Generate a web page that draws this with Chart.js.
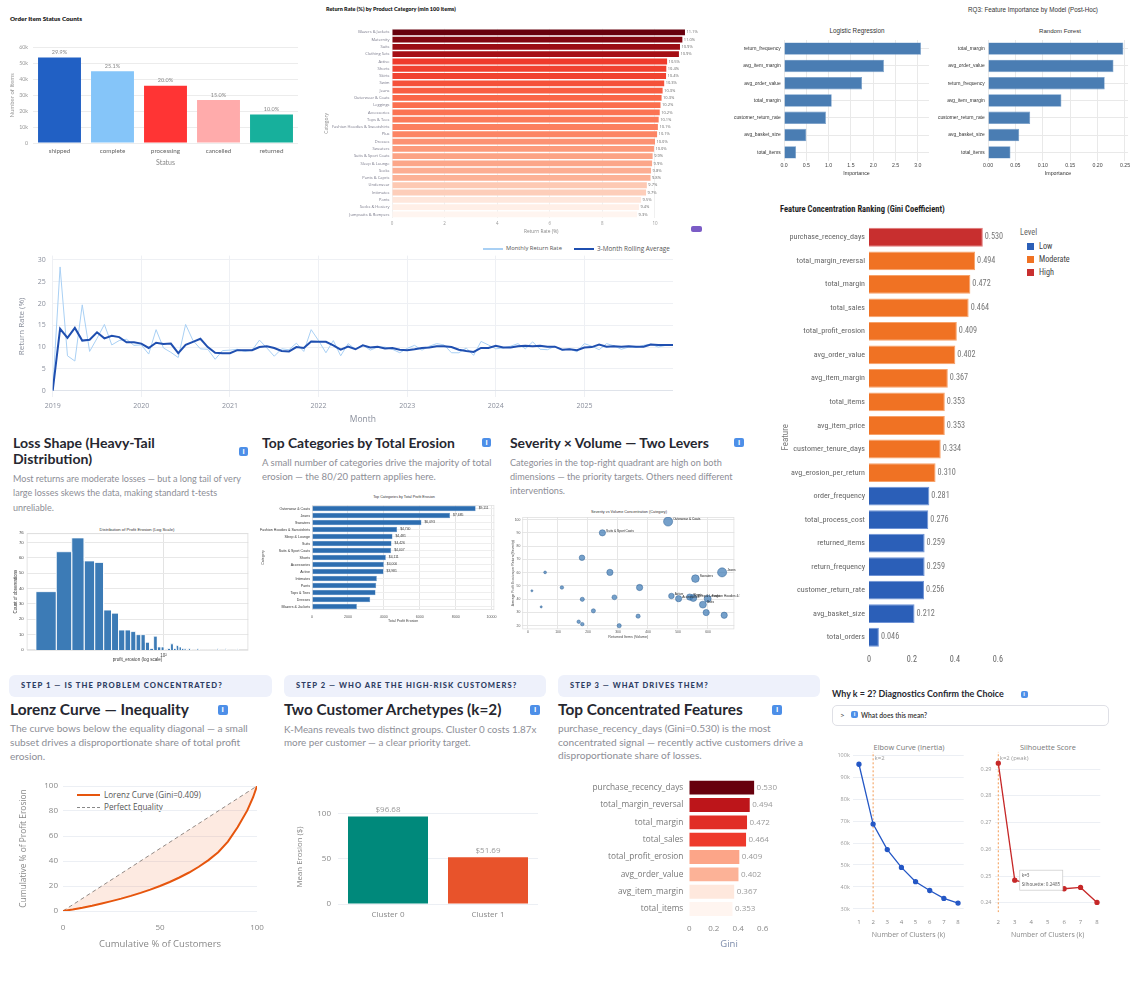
<!DOCTYPE html>
<html>
<head>
<meta charset="utf-8">
<title>Returns &amp; Profit Erosion Dashboard</title>
<script src="https://cdn.jsdelivr.net/npm/chart.js@4.4.1/dist/chart.umd.min.js"></script>
<style>
html,body{margin:0;padding:0;background:#fff}
body{position:relative;width:1137px;height:990px;overflow:hidden}
canvas{position:absolute;display:block}
.t{position:absolute;white-space:nowrap}
.ic{position:absolute;background:#4d8fe8;border-radius:2px;color:#fff;font-weight:700;font-family:'Noto Sans',sans-serif;text-align:center}
.exp{position:absolute;border:1px solid #dfe0e6;border-radius:5px;background:#fff}
.blk{position:absolute}
</style>
</head>
<body>
<script>
// ------------------------------------------------------------------ DATA
const statusCats = ['shipped','complete','processing','cancelled','returned'];
const statusCounts = [53800, 45200, 36000, 27000, 18000];
const statusPct = ['29.9%','25.1%','20.0%','15.0%','10.0%'];

const retCats = ['Blazers & Jackets','Maternity','Suits','Clothing Sets','Active','Shorts','Skirts','Swim','Jeans','Outerwear & Coats','Leggings','Accessories','Tops & Tees','Fashion Hoodies & Sweatshirts','Plus','Dresses','Sweaters','Suits & Sport Coats','Sleep & Lounge','Socks','Pants & Capris','Underwear','Intimates','Pants','Socks & Hosiery','Jumpsuits & Rompers'];
const retVals = [11.14, 11.04, 10.95, 10.91, 10.46, 10.43, 10.42, 10.35, 10.29, 10.25, 10.21, 10.18, 10.14, 10.11, 10.08, 10.00, 9.96, 9.91, 9.89, 9.85, 9.83, 9.69, 9.66, 9.47, 9.39, 9.32];
const retTicks = [0, 2, 4, 6, 8, 10];

const lrFeat = ['return_frequency','avg_item_margin','avg_order_value','total_margin','customer_return_rate','avg_basket_size','total_items'];
const lrVals = [3.07, 2.24, 1.75, 1.07, 0.94, 0.50, 0.27];
const lrTicks = [0, 0.5, 1.0, 1.5, 2.0, 2.5, 3.0];
const rfFeat = ['total_margin','avg_order_value','return_frequency','avg_item_margin','customer_return_rate','avg_basket_size','total_items'];
const rfVals = [0.247, 0.229, 0.213, 0.134, 0.077, 0.057, 0.041];
const rfTicks = [0, 0.05, 0.10, 0.15, 0.20, 0.25];

const months = [
'2019-01','2019-02','2019-03','2019-04','2019-05','2019-06','2019-07','2019-08','2019-09','2019-10','2019-11','2019-12',
'2020-01','2020-02','2020-03','2020-04','2020-05','2020-06','2020-07','2020-08','2020-09','2020-10','2020-11','2020-12',
'2021-01','2021-02','2021-03','2021-04','2021-05','2021-06','2021-07','2021-08','2021-09','2021-10','2021-11','2021-12',
'2022-01','2022-02','2022-03','2022-04','2022-05','2022-06','2022-07','2022-08','2022-09','2022-10','2022-11','2022-12',
'2023-01','2023-02','2023-03','2023-04','2023-05','2023-06','2023-07','2023-08','2023-09','2023-10','2023-11','2023-12',
'2024-01','2024-02','2024-03','2024-04','2024-05','2024-06','2024-07','2024-08','2024-09','2024-10','2024-11','2024-12',
'2025-01','2025-02','2025-03','2025-04','2025-05','2025-06','2025-07','2025-08','2025-09','2025-10','2025-11','2025-12',
'2026-01'];
const monthlyRate = [
0, 28.4, 8.0, 6.8, 19.7, 9.0, 12.0, 15.2, 10.5, 11.5, 11.8, 10.4,
10.5, 8.4, 14.0, 9.8, 8.8, 7.6, 15.2, 11.5, 9.6, 9.5, 7.2, 9.2,
9.3, 9.5, 9.0, 9.3, 11.6, 9.8, 7.9, 9.6, 9.4, 10.9, 9.0, 14.0,
11.5, 8.7, 11.5, 8.0, 10.8, 9.5, 10.5, 9.3, 10.0, 10.0, 9.5, 8.7,
9.7, 10.4, 9.3, 10.2, 10.8, 10.5, 8.7, 8.7, 9.8, 8.1, 11.3, 10.5,
9.6, 9.8, 10.2, 10.8, 9.6, 11.2, 9.5, 9.4, 10.2, 9.3, 9.6, 8.9,
10.8, 10.2, 9.4, 10.8, 10.3, 9.5, 10.0, 9.9, 10.4, 10.7, 10.0, 10.4,
10.6];
const rollingAvg = [
0, 14.2, 12.1, 14.4, 11.5, 11.7, 13.4, 12.0, 12.6, 12.3, 11.1, 11.1,
10.8, 9.8, 11.0, 10.7, 10.8, 8.6, 10.5, 11.2, 11.9, 10.0, 8.7, 8.6,
8.6, 9.3, 9.3, 9.3, 10.0, 10.2, 9.8, 9.1, 9.0, 10.0, 9.8, 11.3,
11.2, 11.2, 10.4, 9.4, 10.1, 9.5, 10.4, 9.9, 10.1, 9.7, 9.8, 9.4,
9.3, 9.5, 9.8, 9.9, 10.2, 10.2, 10.0, 9.4, 9.1, 8.9, 9.8, 9.8,
10.3, 9.9, 9.9, 10.2, 10.3, 10.2, 10.3, 10.1, 10.1, 9.4, 9.5, 9.3,
9.9, 10.0, 10.6, 10.1, 10.2, 10.1, 10.2, 10.1, 10.1, 10.6, 10.5, 10.5,
10.5];
const yearTicks = [2019, 2020, 2021, 2022, 2023, 2024, 2025];
const rateTicks = [0, 5, 10, 15, 20, 25, 30];

const giniFeat = ['purchase_recency_days','total_margin_reversal','total_margin','total_sales','total_profit_erosion','avg_order_value','avg_item_margin','total_items','avg_item_price','customer_tenure_days','avg_erosion_per_return','order_frequency','total_process_cost','returned_items','return_frequency','customer_return_rate','avg_basket_size','total_orders'];
const giniVals = [0.530, 0.494, 0.472, 0.464, 0.409, 0.402, 0.367, 0.353, 0.353, 0.334, 0.310, 0.281, 0.276, 0.259, 0.259, 0.256, 0.212, 0.046];
const giniLevel = ['High','Moderate','Moderate','Moderate','Moderate','Moderate','Moderate','Moderate','Moderate','Moderate','Moderate','Low','Low','Low','Low','Low','Low','Low'];
const levelNames = ['Low','Moderate','High'];
const giniTicks = [0, 0.2, 0.4, 0.6];

const histStart = 13.9, histWidth = 5.15;
const histCounts = [38,64,73,58,57,26,24,13,13,12, 10,10,5,1,9,2,2,0,1,4, 1,3,2,1,1,0,1,0,0,0, 1,0,0,0,0,0,0,0,0,0, 0,0,1,0,0,0,0,0,1,0, 0,0,0,0,0,0,0,0,1];

const topCats = ['Outerwear & Coats','Jeans','Sweaters','Fashion Hoodies & Sweatshirts','Sleep & Lounge','Suits','Suits & Sport Coats','Shorts','Accessories','Active','Intimates','Pants','Tops & Tees','Dresses','Blazers & Jackets'];
const topVals = [9111, 7685, 6093, 4740, 4481, 4426, 4407, 4111, 4000, 3981, 3611, 3574, 3537, 3241, 2500];
const topLabels = ['$9,111','$7,685','$6,093','$4,740','$4,481','$4,426','$4,407','$4,111','$4,000','$3,981','','','','',''];
const topTicks = [0, 2000, 4000, 6000, 8000, 10000];

const bubVolume   = [467, 248, 180, 57, 273, 647, 558, 372, 113, 13, 478, 288, 502, 539, 551, 599, 181, 583, 44, 218, 594, 654, 367, 169, 181, 304];
const bubSeverity = [98.5, 90, 71.2, 60.2, 60.2, 60.2, 55.5, 48.8, 48.8, 46.3, 42.4, 41.4, 40.4, 41.6, 40.9, 40.4, 39.9, 35.9, 34.2, 31.2, 29.9, 27.9, 27.2, 23.0, 21.2, 20.0];
const bubErosion  = [9111, 4356, 3443, 860, 4356, 9111, 6500, 4356, 1344, 484, 3443, 2635, 4356, 4356, 5378, 5378, 1936, 5378, 484, 1936, 4356, 4356, 1936, 1344, 1344, 1936];
const bubLabel    = ['Outerwear & Coats','Suits & Sport Coats','','','','Jeans','Sweaters','','','','Active','','Accessories','Shorts','Sleep & Lounge','Fashion Hoodies & Sweatshirts','','Suits','','','','','','','',''];
const volTicks = [0, 100, 200, 300, 400, 500, 600];
const sevTicks = [20, 30, 40, 50, 60, 70, 80, 90, 100];

const lorenzX = [0,5,10,15,20,25,30,35,40,45,50,55,60,65,70,75,80,85,90,95,98,100];
const lorenzY = [0,1.2,2.6,4.2,6.0,7.9,9.9,12.1,14.5,17.1,20.0,23.2,26.8,30.8,35.4,40.7,47.0,55.5,67.0,80.5,91.0,100];
const equalityXY = [0, 100];

const clusterNames = ['Cluster 0','Cluster 1'];
const clusterErosion = [96.68, 51.69];
const clusterLabels = ['$96.68','$51.69'];

const conFeat = ['purchase_recency_days','total_margin_reversal','total_margin','total_sales','total_profit_erosion','avg_order_value','avg_item_margin','total_items'];
const conVals = [0.530, 0.494, 0.472, 0.464, 0.409, 0.402, 0.367, 0.353];

const elbowK = [1,2,3,4,5,6,7,8];
const elbowInertia = [95800, 68600, 57000, 48900, 42400, 38400, 34800, 32700];
const inertiaTicks = [30000,40000,50000,60000,70000,80000,90000,100000];
const silK = [2,3,4,5,6,7,8];
const silScore = [0.2922, 0.2485, 0.2469, 0.2458, 0.2453, 0.2458, 0.2402];
const silTicks = [0.24,0.25,0.26,0.27,0.28,0.29];
const chosenK = 2;

// ------------------------------------------------------------------ HELPERS
const LATO = "Lato, 'Open Sans', sans-serif";
const OPEN = "'Open Sans', sans-serif";
const LIB = "'Liberation Sans', Arial, sans-serif";
const NARROW = "'Liberation Sans Narrow','Roboto Condensed','DejaVu Sans Condensed',Roboto,sans-serif";

function T(lines, o){
  lines = Array.isArray(lines) ? lines : [lines];
  const d = document.createElement('div'); d.className='t';
  d.style.fontFamily = o.fam || LATO; d.style.fontWeight = o.wt || 400; d.style.color = o.col || '#333';
  if (o.ls) d.style.letterSpacing = o.ls + 'em';
  document.body.appendChild(d);
  let size = o.size || 10;
  d.style.lineHeight = '1';
  if (o.fit){ d.style.fontSize = size+'px'; d.textContent = lines[0]; size = size * o.fit / d.getBoundingClientRect().width; }
  const lh = o.lh || size*1.25;
  d.style.fontSize = size+'px'; d.style.lineHeight = lh+'px';
  d.textContent = '';
  lines.forEach((l,i)=>{ if(i) d.appendChild(document.createElement('br')); d.appendChild(document.createTextNode(l)); });
  d.style.top = (o.yc - lh/2) + 'px';
  if (o.cx !== undefined){ const w = d.getBoundingClientRect().width; d.style.left = (o.cx - w/2)+'px'; }
  else d.style.left = o.x + 'px';
  return d;
}
function R(x,y,w,h,css){ const d=document.createElement('div'); d.className='blk'; Object.assign(d.style,{left:x+'px',top:y+'px',width:w+'px',height:h+'px'},css||{}); document.body.appendChild(d); return d; }
function icon(cx,cy,s){ const d=document.createElement('div'); d.className='ic'; s=s||10; Object.assign(d.style,{left:(cx-s/2)+'px',top:(cy-s/2)+'px',width:s+'px',height:(s-0.5)+'px',fontSize:(s*0.75)+'px',lineHeight:(s-0.5)+'px'}); d.textContent='i'; document.body.appendChild(d); }

function mk(box){ const c=document.createElement('canvas'); c.width=box.w; c.height=box.h; Object.assign(c.style,{left:box.x+'px',top:box.y+'px',width:box.w+'px',height:box.h+'px'}); document.body.appendChild(c); return c.getContext('2d'); }
function geom(box, p){ return { pad:{left:0, top:p.t-box.y, right:box.x+box.w-p.r, bottom:0}, yw:p.l-box.x, xh:box.y+box.h-p.b }; }
function zero(s){ s.paddingLeft=0; s.paddingRight=0; s.paddingTop=0; s.paddingBottom=0; }
function sc(o){
  const s = { border:{display:false},
    grid:{display:!!o.grid, color:o.grid||'rgba(0,0,0,0)', drawTicks:false},
    ticks:{font:{size:o.fs, family:o.ff}, color:o.fc, padding:o.tp, autoSkip:false, maxRotation:0, minRotation:0} };
  if (o.type) s.type = o.type;
  if (o.min !== undefined) s.min = o.min;
  if (o.max !== undefined) s.max = o.max;
  if (o.step) s.ticks.stepSize = o.step;
  if (o.cb) s.ticks.callback = o.cb;
  if (o.goff !== undefined) s.grid.offset = o.goff;
  if (o.tv) s.afterBuildTicks = x => { x.ticks = o.tv.map(v=>({value:v})); };
  if (o.w !== undefined) s.afterFit = x => { x.width = o.w; zero(x); };
  if (o.h !== undefined) s.afterFit = x => { x.height = o.h; zero(x); };
  s.title = o.title ? {display:true, text:o.title, font:{size:o.tfs, family:o.ff, weight:o.tw||'normal'}, color:o.tc||o.fc, padding:o.tpad} : {display:false};
  return s;
}
function barLabels(texts, font, color, off){
  return {id:'barLabels', afterDatasetsDraw(c){
    const ctx=c.ctx, meta=c.getDatasetMeta(0), hor=c.options.indexAxis==='y';
    ctx.save(); ctx.font=font; ctx.fillStyle=color;
    meta.data.forEach((el,i)=>{ const t=texts[i]; if(!t) return;
      if(hor){ ctx.textAlign='left'; ctx.textBaseline='middle'; ctx.fillText(t, el.x+off, el.y); }
      else { ctx.textAlign='center'; ctx.textBaseline='bottom'; ctx.fillText(t, el.x, el.y-off); } });
    ctx.restore(); }};
}
function frame(col){ return {id:'frame', beforeDatasetsDraw(c){ const a=c.chartArea, x=c.ctx; x.save(); x.strokeStyle=col; x.lineWidth=0.8; x.strokeRect(a.left+0.4,a.top+0.4,a.right-a.left-0.8,a.bottom-a.top-0.8); x.restore(); }}; }
const REDS=[[0,[255,245,240]],[0.125,[254,224,210]],[0.25,[252,187,161]],[0.375,[252,146,114]],[0.5,[251,106,74]],[0.625,[239,59,44]],[0.75,[203,24,29]],[0.875,[165,15,21]],[1,[103,0,13]]];
function reds(t){ t=Math.max(0,Math.min(1,t)); for(let i=1;i<REDS.length;i++){ if(t<=REDS[i][0]){ const a=REDS[i-1], b=REDS[i]; const f=(t-a[0])/(b[0]-a[0]); return 'rgb('+a[1].map((v,j)=>Math.round(v+(b[1][j]-v)*f)).join(',')+')'; } } return 'rgb(103,0,13)'; }
function scaleT(vals){ const mn=Math.min(...vals), mx=Math.max(...vals); return vals.map(v=>(v-mn)/(mx-mn)); }

Chart.defaults.animation = false;
Chart.defaults.responsive = false;
Chart.defaults.maintainAspectRatio = false;
Chart.defaults.events = [];
Chart.defaults.devicePixelRatio = 1;
Chart.defaults.plugins.legend.display = false;
Chart.defaults.plugins.tooltip.enabled = false;
Chart.defaults.font.family = OPEN;

// ------------------------------------------------------------------ TEXT / DECOR
T('Order Item Status Counts', {x:10, yc:19, size:7, wt:800, col:'#1f1f1f', fit:72});
T('Return Rate (%) by Product Category (min 100 items)', {x:326, yc:9.5, size:6, wt:800, col:'#1f1f1f', fit:130});
T('RQ3: Feature Importance by Model (Post-Hoc)', {cx:1033, yc:10, size:6.5, fam:LIB, col:'#333', fit:130});
T('Logistic Regression', {cx:857, yc:31, size:7.5, fam:LIB, col:'#333', fit:55});
T('Random Forest', {cx:1060, yc:31, size:7.5, fam:LIB, col:'#333', fit:42});
R(691,226,11,6,{background:'#7b5cc6',borderRadius:'2px'});

// line chart legend
R(483,248.4,20,1.3,{background:'#a9d0f4'});
T('Monthly Return Rate', {x:506, yc:249, size:7, fam:OPEN, col:'#555', fit:56});
R(574,248,20,2,{background:'#1f4fb0'});
T('3-Month Rolling Average', {x:597, yc:249, size:7, fam:OPEN, col:'#555', fit:73});

// gini ranking title + legend
T('Feature Concentration Ranking (Gini Coefficient)', {x:780, yc:209, size:9, wt:700, fam:NARROW, col:'#1f1f1f', fit:165});
T('Level', {x:1020, yc:232, size:8.3, fam:NARROW, col:'#666'});
const levelCol = {Low:'#2b5fb8', Moderate:'#f07223', High:'#c82f2f'};
levelNames.forEach((n,i)=>{ R(1027,242.5+i*13,6.5,7.5,{background:levelCol[n]}); T(n,{x:1039, yc:246+i*13, size:8.2, fam:NARROW, col:'#444'}); });

// middle row texts
const HEAD = '#262730', PARA = '#8d8e96';
T(['Loss Shape (Heavy-Tail','Distribution)'], {x:13, yc:443.3, size:15, wt:700, col:HEAD, lh:16, fit:142});
icon(243.5,451.5,9.5);
T(['Most returns are moderate losses \u2014 but a long tail of very','large losses skews the data, making standard t-tests','unreliable.'], {x:13, yc:479.3, size:9.5, col:PARA, lh:14.3, fit:228});
T('Top Categories by Total Erosion', {x:262, yc:442.7, size:15, wt:700, col:HEAD, fit:193});
icon(486.5,442.5,9.5);
T(['A small number of categories drive the majority of total','erosion \u2014 the 80/20 pattern applies here.'], {x:262, yc:463.3, size:9.5, col:PARA, lh:14, fit:230});
T('Severity \u00d7 Volume \u2014 Two Levers', {x:510, yc:442.7, size:15, wt:700, col:HEAD, fit:199});
icon(739,442.5,9.5);
T(['Categories in the top-right quadrant are high on both','dimensions \u2014 the priority targets. Others need different','interventions.'], {x:510, yc:462.7, size:9.5, col:PARA, lh:14.3, fit:212});

T('Distribution of Profit Erosion (Log Scale)', {cx:137, yc:530, size:5, fam:LIB, col:'#333', fit:75});
T('Top Categories by Total Profit Erosion', {cx:404, yc:497.5, size:4, fam:LIB, col:'#333', fit:62});
T('Severity vs Volume Concentration (Category)', {cx:629, yc:512.5, size:3.6, fam:LIB, col:'#333', fit:76});

// bottom row
R(9,675,263,22,{background:'#eef1fb',borderRadius:'6px'});
R(284,675,262,22,{background:'#eef1fb',borderRadius:'6px'});
R(558,675,262,22,{background:'#eef1fb',borderRadius:'6px'});
const BAN='#2d3d63';
T('STEP 1 \u2014 IS THE PROBLEM CONCENTRATED?', {x:21, yc:686, size:7.5, wt:900, col:BAN, ls:0.14, fit:202});
T('STEP 2 \u2014 WHO ARE THE HIGH-RISK CUSTOMERS?', {x:296, yc:686, size:7.5, wt:900, col:BAN, ls:0.14, fit:221.7});
T('STEP 3 \u2014 WHAT DRIVES THEM?', {x:570, yc:686, size:7.5, wt:900, col:BAN, ls:0.14, fit:139});

T('Lorenz Curve \u2014 Inequality', {x:10, yc:710, size:15, wt:700, col:HEAD, fit:179});
icon(222.7,710,10);
T(['The curve bows below the equality diagonal \u2014 a small','subset drives a disproportionate share of total profit','erosion.'], {x:10, yc:729, size:10, col:PARA, lh:13.8, fit:238});
T('Two Customer Archetypes (k=2)', {x:284, yc:710, size:15, wt:700, col:HEAD, fit:217.7});
icon(535,710,10);
T(['K-Means reveals two distinct groups. Cluster 0 costs 1.87x','more per customer \u2014 a clear priority target.'], {x:284, yc:729.3, size:10, col:PARA, lh:13.4, fit:252.7});
T('Top Concentrated Features', {x:558, yc:710, size:15, wt:700, col:HEAD, fit:185});
icon(777,710,10);
T(['purchase_recency_days (Gini=0.530) is the most','concentrated signal \u2014 recently active customers drive a','disproportionate share of losses.'], {x:558, yc:729, size:10, col:PARA, lh:13.5, fit:213});

T('Why k = 2? Diagnostics Confirm the Choice', {x:832, yc:694, size:10, wt:700, col:'#262730', fit:172});
icon(1024,694.5,7);
const ex = document.createElement('div'); ex.className='exp'; Object.assign(ex.style,{left:'832px',top:'705px',width:'275px',height:'19px'}); document.body.appendChild(ex);
T('>', {x:840, yc:715, size:8, col:'#444'});
icon(854.5,714.5,7);
T('What does this mean?', {x:861, yc:715, size:8, wt:600, col:'#333', fit:66});

// Lorenz legend
R(77,794.2,23,1.8,{background:'#e6550d'});
T('Lorenz Curve (Gini=0.409)', {x:104, yc:795, size:8.5, fam:OPEN, col:'#555', fit:97});
R(77,806.5,23,0,{borderTop:'1px dashed #888'});
T('Perfect Equality', {x:104, yc:807, size:8.5, fam:OPEN, col:'#555', fit:59});

T('Elbow Curve (Inertia)', {cx:909, yc:747.7, size:8.5, fam:OPEN, col:'#777', fit:71});
T('Silhouette Score', {cx:1048, yc:747.7, size:8.5, fam:OPEN, col:'#777', fit:56});

// ------------------------------------------------------------------ CHART A: status counts
{
  const box={x:0,y:30,w:300,h:140}, g=geom(box,{l:33,t:47.7,r:298,b:143});
  new Chart(mk(box), {type:'bar',
    data:{labels:statusCats, datasets:[{data:statusCounts, backgroundColor:['#2160c4','#85c5f9','#ff3434','#ffabab','#17b09c'], barPercentage:0.81, categoryPercentage:1}]},
    options:{layout:{padding:g.pad},
      scales:{
        x: sc({h:g.xh, fs:6.3, ff:LATO, fc:'#666', tp:4, title:'Status', tfs:7, tc:'#888', tpad:{bottom:2.8}}),
        y: sc({w:g.yw, min:0, max:60000, step:10000, cb:v=>v===0?'0':(v/1000)+'k', fs:5.3, ff:LATO, fc:'#999', tp:5, grid:'#ececec', title:'Number of Items', tfs:6, tc:'#999', tpad:{top:8.4}})
      }},
    plugins:[barLabels(statusPct, "5.5px Lato, sans-serif", '#888', 2.5)]});
}

// ------------------------------------------------------------------ CHART B: return rate by category
{
  const box={x:310,y:20,w:400,h:220}, g=geom(box,{l:392,t:28.7,r:690.5,b:218});
  const tt = scaleT(retVals);
  new Chart(mk(box), {type:'bar',
    data:{labels:retCats, datasets:[{data:retVals, backgroundColor:tt.map(reds), barPercentage:0.8, categoryPercentage:1}]},
    options:{indexAxis:'y', layout:{padding:g.pad},
      scales:{
        x: sc({h:g.xh, min:0, max:11.35, tv:retTicks, fs:4.5, fc:'#999', tp:3.5, grid:'#f0f0f0', title:'Return Rate (%)', tfs:4.8, tc:'#888', tpad:{bottom:5.7}}),
        y: sc({w:g.yw, fs:4, fc:'#778', tp:2.5, title:'Category', tfs:5, tc:'#888', tpad:{top:14}})
      }},
    plugins:[barLabels(retVals.map(v=>v.toFixed(1)+'%'), "4px 'Open Sans', sans-serif", '#666', 1.5)]});
}

// ------------------------------------------------------------------ CHART C: feature importance (LR + RF)
function impChart(box, plot, feats, vals, max, ticks, dec){
  const g=geom(box,plot);
  new Chart(mk(box), {type:'bar',
    data:{labels:feats, datasets:[{data:vals, backgroundColor:'#4a7db3', borderColor:'#6c98c6', borderWidth:0.6, barPercentage:0.72, categoryPercentage:1}]},
    options:{indexAxis:'y', layout:{padding:g.pad},
      scales:{
        x: sc({h:g.xh, min:0, max:max, tv:ticks, cb:v=>v.toFixed(dec), fs:5.2, ff:LIB, fc:'#444', tp:1.5, grid:'#e9e9e9', title:'Importance', tfs:5.3, tc:'#333', tpad:{bottom:3.7}}),
        y: sc({w:g.yw, fs:4.9, ff:LIB, fc:'#333', tp:3.3, grid:'#e9e9e9', goff:false})
      }}});
}
impChart({x:730,y:25,w:203,h:155}, {l:784,t:40,r:929,b:161}, lrFeat, lrVals, 3.25, lrTicks, 1);
impChart({x:933,y:25,w:204,h:155}, {l:988,t:40,r:1128,b:161}, rfFeat, rfVals, 0.2555, rfTicks, 2);

// ------------------------------------------------------------------ CHART D: monthly return rate
{
  const box={x:0,y:240,w:700,h:190}, g=geom(box,{l:52.7,t:255.6,r:673,b:397.2});
  const mx = months.map(m=>(+m.slice(0,4)) + ((+m.slice(5))-1)/12);
  new Chart(mk(box), {type:'line',
    data:{datasets:[
      {label:'3-Month Rolling Average', data:rollingAvg.map((v,i)=>({x:mx[i],y:v})), borderColor:'#1f4fb0', borderWidth:2, pointRadius:0, tension:0, order:0},
      {label:'Monthly Return Rate', data:monthlyRate.map((v,i)=>({x:mx[i],y:v})), borderColor:'#a9d0f4', borderWidth:1, pointRadius:0, tension:0, order:1}
    ]},
    options:{layout:{padding:g.pad},
      scales:{
        x: sc({type:'linear', h:g.xh, min:mx[0], max:mx[mx.length-1], tv:yearTicks, cb:v=>String(v), fs:7, fc:'#8a8f9c', tp:5, grid:'#eef0f4', title:'Month', tfs:8.5, tc:'#8a8f9c', tpad:{bottom:4.9}}),
        y: sc({w:g.yw, min:-1.5, max:31, tv:rateTicks, fs:7, fc:'#8a8f9c', tp:7, grid:(c)=>c.tick && c.tick.value===0 ? '#dfe3ea' : '#eef0f4', title:'Return Rate (%)', tfs:8, tc:'#8a8f9c', tpad:{top:17}})
      }}});
}

// ------------------------------------------------------------------ CHART E: gini ranking
{
  const box={x:770,y:215,w:240,h:455}, g=geom(box,{l:869,t:225.5,r:1000,b:649});
  const bg = giniLevel.map(l=>levelCol[l]);
  const bd = giniLevel.map(l=>({Low:'#6f93d6',Moderate:'#f7a26a',High:'#e07a7a'}[l]));
  new Chart(mk(box), {type:'bar',
    data:{labels:giniFeat, datasets:[{data:giniVals, backgroundColor:bg, borderColor:bd, borderWidth:1, barPercentage:0.8, categoryPercentage:1}]},
    options:{indexAxis:'y', layout:{padding:g.pad},
      scales:{
        x: sc({h:g.xh, min:0, max:0.61, tv:giniTicks, cb:v=>v===0?'0':v.toFixed(1), fs:8.2, ff:NARROW, fc:'#666', tp:6}),
        y: sc({w:g.yw, fs:8.1, ff:NARROW, fc:'#666', tp:4, title:'Feature', tfs:9, tc:'#777', tpad:{top:10.6}})
      }},
    plugins:[barLabels(giniVals.map(v=>v.toFixed(3)), "8.2px 'Liberation Sans Narrow','Roboto Condensed','DejaVu Sans Condensed',Roboto,sans-serif", '#777', 2)]});
}

// ------------------------------------------------------------------ CHART F: histogram (log x)
{
  const box={x:10,y:520,w:245,h:150}, g=geom(box,{l:26.7,t:533.3,r:248.3,b:650});
  const pts=[];
  histCounts.forEach((c,i)=>{ const x0=histStart+i*histWidth, x1=x0+histWidth; pts.push({x:x0,y:0},{x:x0,y:c},{x:x1,y:c},{x:x1,y:0}); });
  new Chart(mk(box), {type:'scatter',
    data:{datasets:[{data:pts, showLine:true, fill:'origin', backgroundColor:'#3c7bb6', borderColor:'#ffffff', borderWidth:0.8, pointRadius:0, tension:0}]},
    options:{layout:{padding:g.pad},
      scales:{
        x: sc({type:'logarithmic', h:g.xh, min:12.04, max:372.6, tv:[100], cb:()=> '10\u00b2', fs:4.5, ff:LIB, fc:'#444', tp:3, grid:'#e3e3e3', title:'profit_erosion (log scale)', tfs:4.5, tc:'#333', tpad:{bottom:7.3}}),
        y: sc({w:g.yw, min:0, max:76, step:10, fs:4.3, ff:LIB, fc:'#444', tp:3, grid:'#e8e8e8', title:'Count of observations', tfs:4.5, tc:'#333', tpad:{top:3.3}})
      }},
    plugins:[frame('#dddddd')]});
}

// ------------------------------------------------------------------ CHART G: top categories erosion
{
  const box={x:260,y:500,w:240,h:128}, g=geom(box,{l:312,t:505,r:494.3,b:610});
  new Chart(mk(box), {type:'bar',
    data:{labels:topCats, datasets:[{data:topVals, backgroundColor:'#2c6db0', borderColor:'#5b8fc6', borderWidth:0.5, barPercentage:0.82, categoryPercentage:1}]},
    options:{indexAxis:'y', layout:{padding:g.pad},
      scales:{
        x: sc({h:g.xh, min:0, max:10150, tv:topTicks, cb:v=>String(v), fs:3.6, ff:LIB, fc:'#555', tp:4.8, grid:'#e6e6e6', title:'Total Profit Erosion', tfs:3.6, tc:'#444', tpad:{bottom:4.9}}),
        y: sc({w:g.yw, fs:3.6, ff:LIB, fc:'#333', tp:2, grid:'#eeeeee', goff:false, title:'Category', tfs:3.6, tc:'#444', tpad:{top:1}})
      }},
    plugins:[barLabels(topLabels, "3.4px 'Liberation Sans', Arial, sans-serif", '#333', 3), frame('#e3e3e3')]});
}

// ------------------------------------------------------------------ CHART H: severity vs volume
{
  const box={x:508,y:512,w:232,h:130}, g=geom(box,{l:522.3,t:516,r:734.3,b:629.3});
  const data = bubVolume.map((v,i)=>({x:v, y:bubSeverity[i], r:Math.sqrt(bubErosion[i])/21}));
  new Chart(mk(box), {type:'bubble',
    data:{datasets:[{data:data, backgroundColor:'rgba(64,124,182,0.72)', borderColor:'rgba(40,92,145,0.9)', borderWidth:0.5}]},
    options:{layout:{padding:g.pad},
      scales:{
        x: sc({h:g.xh, min:-19, max:687.7, tv:volTicks, fs:3.4, ff:LIB, fc:'#555', tp:1, grid:'#e6e6e6', title:'Returned Items (Volume)', tfs:3.6, tc:'#444', tpad:{bottom:2.6}}),
        y: sc({w:g.yw, min:17.3, max:101.9, tv:sevTicks, fs:3.4, ff:LIB, fc:'#555', tp:2, grid:'#e6e6e6', title:'Average Profit Erosion per Return (Severity)', tfs:3.4, tc:'#444', tpad:{top:3.2}})
      }},
    plugins:[frame('#e0e0e0'), {id:'bubLbl', afterDatasetsDraw(c){ const ctx=c.ctx, meta=c.getDatasetMeta(0); ctx.save(); ctx.font="3.2px 'Liberation Sans', Arial, sans-serif"; ctx.fillStyle='#222'; ctx.textAlign='left'; ctx.textBaseline='middle';
      meta.data.forEach((el,i)=>{ const t=bubLabel[i]; if(!t) return; const r=el.options.radius||2; ctx.fillText(t, el.x+r+0.5, el.y-r*0.6); }); ctx.restore(); }}]});
}

// ------------------------------------------------------------------ CHART I: Lorenz
{
  const box={x:15,y:770,w:250,h:185}, g=geom(box,{l:63,t:786,r:257,b:911});
  new Chart(mk(box), {type:'scatter',
    data:{datasets:[
      {data:lorenzX.map((x,i)=>({x:x,y:lorenzY[i]})), showLine:true, fill:'+1', backgroundColor:'rgba(241,128,78,0.17)', borderColor:'#e6550d', borderWidth:2, pointRadius:0, tension:0, order:0},
      {data:equalityXY.map(v=>({x:v,y:v})), showLine:true, fill:false, borderColor:'#8a8a8a', borderDash:[4,3], borderWidth:1, pointRadius:0, order:1}
    ]},
    options:{layout:{padding:g.pad},
      scales:{
        x: sc({h:g.xh, min:0, max:100, tv:[0,50,100], fs:8, ff:OPEN, fc:'#888', tp:11.5, title:'Cumulative % of Customers', tfs:9.5, tc:'#888', tpad:{bottom:5.3}}),
        y: sc({w:g.yw, min:0, max:100, tv:[0,20,40,60,80,100], fs:8, ff:OPEN, fc:'#888', tp:5, grid:'#eceff4', title:'Cumulative % of Profit Erosion', tfs:8.4, tc:'#888', tpad:{top:3.8}})
      }}});
}

// ------------------------------------------------------------------ CHART J: clusters
{
  const box={x:290,y:800,w:255,h:130}, g=geom(box,{l:338,t:809.8,r:538,b:904});
  new Chart(mk(box), {type:'bar',
    data:{labels:clusterNames, datasets:[{data:clusterErosion, backgroundColor:['#00897b','#e8532b'], barPercentage:0.8, categoryPercentage:1}]},
    options:{layout:{padding:g.pad},
      scales:{
        x: sc({h:g.xh, fs:8, ff:OPEN, fc:'#888', tp:6}),
        y: sc({w:g.yw, min:0, max:104, tv:[0,50,100], fs:8, ff:OPEN, fc:'#888', tp:7, grid:'#eceff4', title:'Mean Erosion ($)', tfs:7.8, tc:'#888', tpad:{top:5.3}})
      }},
    plugins:[barLabels(clusterLabels, "8px 'Open Sans', sans-serif", '#999', 2.5)]});
}

// ------------------------------------------------------------------ CHART K: top concentrated
{
  const box={x:560,y:770,w:230,h:185}, g=geom(box,{l:689.3,t:779,r:768.8,b:917.7});
  const tt = scaleT(conVals);
  new Chart(mk(box), {type:'bar',
    data:{labels:conFeat, datasets:[{data:conVals, backgroundColor:tt.map(reds), barPercentage:0.8, categoryPercentage:1}]},
    options:{indexAxis:'y', layout:{padding:g.pad},
      scales:{
        x: sc({h:g.xh, min:0, max:0.65, tv:giniTicks, cb:v=>v===0?'0':v.toFixed(1), fs:8, ff:OPEN, fc:'#888', tp:5.8, title:'Gini', tfs:9.5, tc:'#7d8cab', tpad:{bottom:5.3}}),
        y: sc({w:g.yw, fs:8.3, ff:OPEN, fc:'#777', tp:6})
      }},
    plugins:[barLabels(conVals.map(v=>v.toFixed(3)), "8px 'Open Sans', sans-serif", '#999', 2.5)]});
}

// ------------------------------------------------------------------ CHART L/M: elbow + silhouette
function kChart(box, plot, ks, vals, col, xmin, xmax, ymin, ymax, ytv, ycb, note, tip){
  const g=geom(box,plot);
  new Chart(mk(box), {type:'scatter',
    data:{datasets:[
      {data:ks.map((k,i)=>({x:k,y:vals[i]})), showLine:true, borderColor:col, backgroundColor:col, borderWidth:1.3, pointRadius:2, tension:0, order:0},
      {data:[{x:chosenK,y:ymin},{x:chosenK,y:ymax}], showLine:true, borderColor:'#f39a52', borderDash:[2,2], borderWidth:1, pointRadius:0, order:1}
    ]},
    options:{layout:{padding:g.pad},
      scales:{
        x: sc({h:g.xh, min:xmin, max:xmax, tv:ks.slice(), fs:6, ff:OPEN, fc:'#888', tp:6, title:'Number of Clusters (k)', tfs:7, tc:'#888', tpad:{bottom:5.8}}),
        y: sc({w:g.yw, min:ymin, max:ymax, tv:ytv, cb:ycb, fs:5.5, ff:OPEN, fc:'#999', tp:3.5, grid:'#eceff4'})
      }},
    plugins:[{id:'kNote', afterDatasetsDraw(c){
      const ctx=c.ctx, a=c.chartArea, px=c.scales.x.getPixelForValue(chosenK);
      ctx.save(); ctx.font="6px 'Open Sans', sans-serif"; ctx.fillStyle='#999'; ctx.textAlign='left'; ctx.textBaseline='middle';
      ctx.fillText(note, px+1.5, a.top+6.5);
      if(tip){ const el=c.getDatasetMeta(0).data[tip.i]; const bx=el.x+5, by=el.y-10;
        ctx.fillStyle='#fff'; ctx.strokeStyle='#c9c9c9'; ctx.lineWidth=0.7; ctx.fillRect(bx,by,43,20); ctx.strokeRect(bx,by,43,20);
        ctx.fillStyle='#555'; ctx.font="4.6px 'Open Sans', sans-serif"; ctx.fillText(tip.l1, bx+2, by+6); ctx.fillText(tip.l2, bx+2, by+14.3); }
      ctx.restore(); }}]});
}
kChart({x:825,y:735,w:145,h:210}, {l:853.3,t:751.7,r:963.7,b:912.3}, elbowK, elbowInertia, '#2457c5', 0.6, 8.4, 28500, 101500,
  inertiaTicks, v=>(v/1000)+'k', 'k=2', null);
kChart({x:970,y:735,w:140,h:210}, {l:995,t:751.7,r:1100.3,b:912.3}, silK, silScore, '#c62828', 1.8, 8.2, 0.2365, 0.2965,
  silTicks, v=>v.toFixed(2), 'k=2 (peak)', {i:1, l1:'k=3', l2:'Silhouette: '+silScore[1].toFixed(4)});
</script>
</body>
</html>
